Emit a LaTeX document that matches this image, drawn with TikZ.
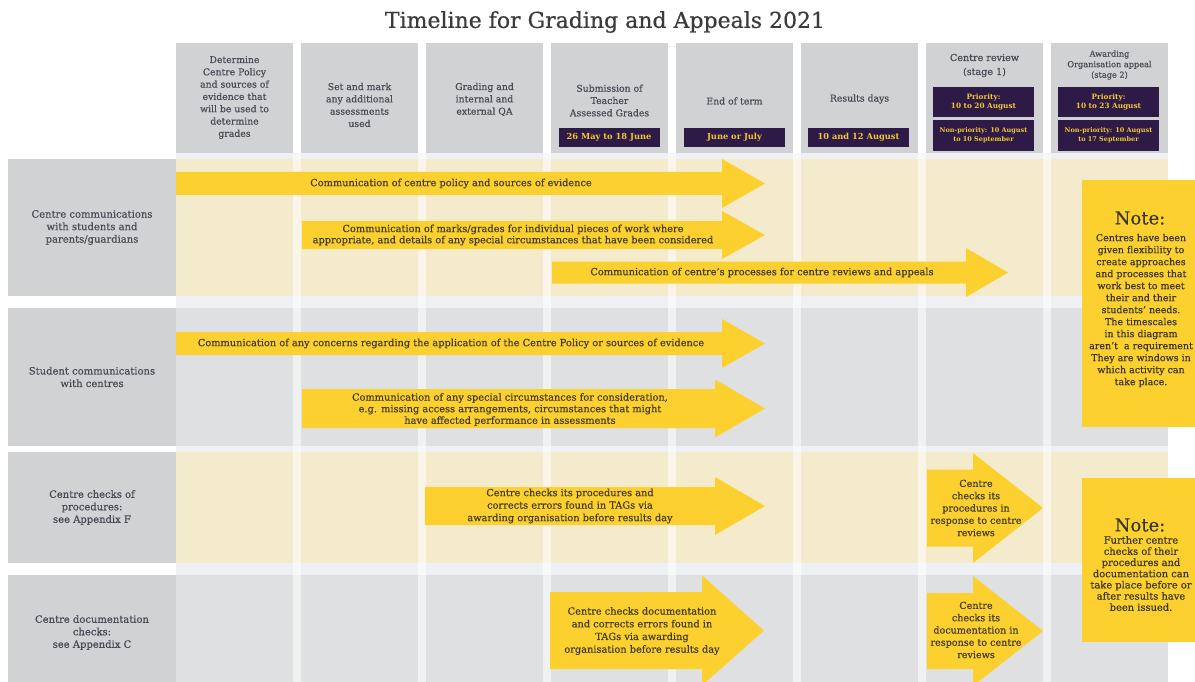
\documentclass[tikz,border=0pt]{standalone}
\usepackage{fontspec}
\setmainfont{DejaVu Serif}[UprightFeatures={FakeBold=0.5}]
\definecolor{headgray}{HTML}{D1D2D4}
\definecolor{rowcream}{HTML}{F4EBCD}
\definecolor{rowgray}{HTML}{DFE0E2}
\definecolor{stripe}{HTML}{EFF0F3}
\definecolor{ayel}{HTML}{FCD12F}
\definecolor{purp}{HTML}{2E1A47}
\definecolor{dateyel}{HTML}{F2C82F}
\definecolor{hdtext}{HTML}{4A4A55}
\definecolor{artext}{HTML}{443C28}
\definecolor{titletext}{HTML}{3B3B3B}
\definecolor{notetext}{HTML}{3A3628}
\newcommand{\fatarrow}[6]{\fill[ayel] (#1,#4-#5) -- (#2,#4-#5) -- (#2,#4-#6) -- (#3,#4) -- (#2,#4+#6) -- (#2,#4+#5) -- (#1,#4+#5) -- cycle;}
\begin{document}
\begin{tikzpicture}[x=1pt,y=-1pt,
  hbox/.style={fill=headgray, minimum width=117pt, minimum height=110pt, inner sep=0pt, draw=none},
  htext/.style={text=hdtext, align=center, font=\fontsize{9.3}{12.3}\selectfont, inner sep=0pt},
  datebox/.style={fill=purp, text=dateyel, minimum width=101pt, minimum height=19pt, inner sep=0pt, align=center, font=\bfseries\fontsize{8.3}{9}\selectfont},
  lbl/.style={fill=headgray, minimum width=168pt, inner sep=0pt, text=hdtext, align=center, font=\fontsize{10}{12.5}\selectfont},
  atext/.style={text=artext, align=center, font=\fontsize{9.8}{11.2}\selectfont, inner sep=0pt},
  notehead/.style={text=notetext, font=\fontsize{18}{20}\selectfont, inner sep=0pt},
  notebody/.style={text=notetext, align=center, inner sep=0pt},
  gapstrip/.style={fill=white, opacity=0.55}
]
\fill[white] (0,0) rectangle (1195,682);
\useasboundingbox (0,0) rectangle (1195,682);

% title
\node[text=titletext, font=\fontsize{22}{26}\selectfont, inner sep=0pt] (title) at (605,22) {Timeline for Grading and Appeals 2021};

% body background
\fill[stripe] (176,153) rectangle (1168,682);
\fill[rowcream] (176,159) rectangle (1168,296);
\fill[rowgray] (176,308) rectangle (1168,446);
\fill[rowcream] (176,452) rectangle (1168,563);
\fill[rowgray] (176,575) rectangle (1168,690);
\foreach \g in {293,418,543,668,793,918,1043} {
  \fill[gapstrip] (\g,153) rectangle (\g+8,690);
}

% header boxes
\node[hbox] (h1) at (234.5,98) {};
\node[hbox] (h2) at (359.5,98) {};
\node[hbox] (h3) at (484.5,98) {};
\node[hbox] (h4) at (609.5,98) {};
\node[hbox] (h5) at (734.5,98) {};
\node[hbox] (h6) at (859.5,98) {};
\node[hbox] (h7) at (984.5,98) {};
\node[hbox] (h8) at (1109.5,98) {};

\node[htext] (t1) at (234.5,97.5) {Determine\\Centre Policy\\and sources of\\evidence that\\will be used to\\determine\\grades};
\node[htext] (t2) at (359.5,105) {Set and mark\\any additional\\assessments\\used};
\node[htext] (t3) at (484.5,99.5) {Grading and\\internal and\\external QA};
\node[htext] (t4) at (609.5,100.5) {Submission of\\Teacher\\Assessed Grades};
\node[htext] (t5) at (734.5,101) {End of term};
\node[htext] (t6) at (859.5,99) {Results days};
\node[htext, font=\fontsize{9.6}{14}\selectfont] (t7) at (984.5,65.5) {Centre review\\(stage 1)};
\node[htext, font=\fontsize{8.2}{10.5}\selectfont] (t8) at (1109.5,65) {Awarding\\Organisation appeal\\(stage 2)};

\node[datebox] (d4) at (609,137.5) {26 May to 18 June};
\node[datebox] (d5) at (734.5,137.5) {June or July};
\node[datebox] (d6) at (858.5,137.5) {10 and 12 August};
\node[datebox, minimum height=30pt, font=\bfseries\fontsize{7.3}{9.5}\selectfont] (p7) at (983.5,102) {Priority:\\10 to 20 August};
\node[datebox, minimum height=31pt, font=\bfseries\fontsize{6.5}{9}\selectfont] (q7) at (983.5,135.5) {Non-priority: 10 August\\to 10 September};
\node[datebox, minimum height=30pt, font=\bfseries\fontsize{7.3}{9.5}\selectfont] (p8) at (1108.5,102) {Priority:\\10 to 23 August};
\node[datebox, minimum height=31pt, font=\bfseries\fontsize{6.5}{9}\selectfont] (q8) at (1108.5,135.5) {Non-priority: 10 August\\to 17 September};

% row labels
\node[lbl, minimum height=137pt] (r1) at (92,227.5) {Centre communications\\with students and\\parents/guardians};
\node[lbl, minimum height=138pt] (r2) at (92,377) {Student communications\\with centres};
\node[lbl, minimum height=111pt] (r3) at (92,507.5) {Centre checks of\\procedures:\\see Appendix F};
\node[lbl, minimum height=115pt] (r4) at (92,632.5) {Centre documentation\\checks:\\see Appendix C};

% arrows
\fatarrow{176}{722}{765}{183.5}{11.5}{24.5}
\fatarrow{302}{722}{765}{235}{14}{24}
\fatarrow{552}{966}{1008}{272.5}{11}{24.5}
\fatarrow{176}{722}{765}{343.5}{11.5}{24.5}
\fatarrow{302}{715}{765}{408.5}{19.5}{29}
\fatarrow{425}{715}{765}{506}{19}{29}
\fatarrow{927}{973}{1043}{508}{38.5}{55}
\fatarrow{550}{702}{764}{630.5}{38.5}{55}
\fatarrow{927}{973}{1043}{631}{38}{55}

\node[atext] (a1) at (451,183.5) {Communication of centre policy and sources of evidence};
\node[atext] (a2) at (513,235) {Communication of marks/grades for individual pieces of work where\\appropriate, and details of any special circumstances that have been considered};
\node[atext] (a3) at (762,272.5) {Communication of centre's processes for centre reviews and appeals};
\node[atext] (a4) at (451,343.5) {Communication of any concerns regarding the application of the Centre Policy or sources of evidence};
\node[atext, font=\fontsize{9.8}{11.6}\selectfont] (a5) at (510,409.5) {Communication of any special circumstances for consideration,\\e.g. missing access arrangements, circumstances that might\\have affected performance in assessments};
\node[atext, font=\fontsize{9.8}{12.5}\selectfont] (a6) at (570,506) {Centre checks its procedures and\\corrects errors found in TAGs via\\awarding organisation before results day};
\node[atext, font=\fontsize{9.6}{12.3}\selectfont] (a7) at (976,508) {Centre\\checks its\\procedures in\\response to centre\\reviews};
\node[atext, font=\fontsize{9.8}{12.7}\selectfont] (a8) at (642,631) {Centre checks documentation\\and corrects errors found in\\TAGs via awarding\\organisation before results day};
\node[atext, font=\fontsize{9.6}{12.3}\selectfont] (a9) at (976,630) {Centre\\checks its\\documentation in\\response to centre\\reviews};

% notes
\fill[ayel] (1082,180) rectangle (1195,427);
\node[notehead] (n1h) at (1140,218) {Note:};
\node[notebody, font=\fontsize{9.5}{12}\selectfont] (n1) at (1141,310.5) {Centres have been\\given flexibility to\\create approaches\\and processes that\\work best to meet\\their and their\\students' needs.\\The timescales\\in this diagram\\aren't \ a requirement\\They are windows in\\which activity can\\take place.};
\fill[ayel] (1082,478) rectangle (1195,642);
\node[notehead] (n2h) at (1140,525) {Note:};
\node[notebody, font=\fontsize{9.9}{11.2}\selectfont] (n2) at (1141,573.5) {Further centre\\checks of their\\procedures and\\documentation can\\take place before or\\after results have\\been issued.};
\end{tikzpicture}
\end{document}
